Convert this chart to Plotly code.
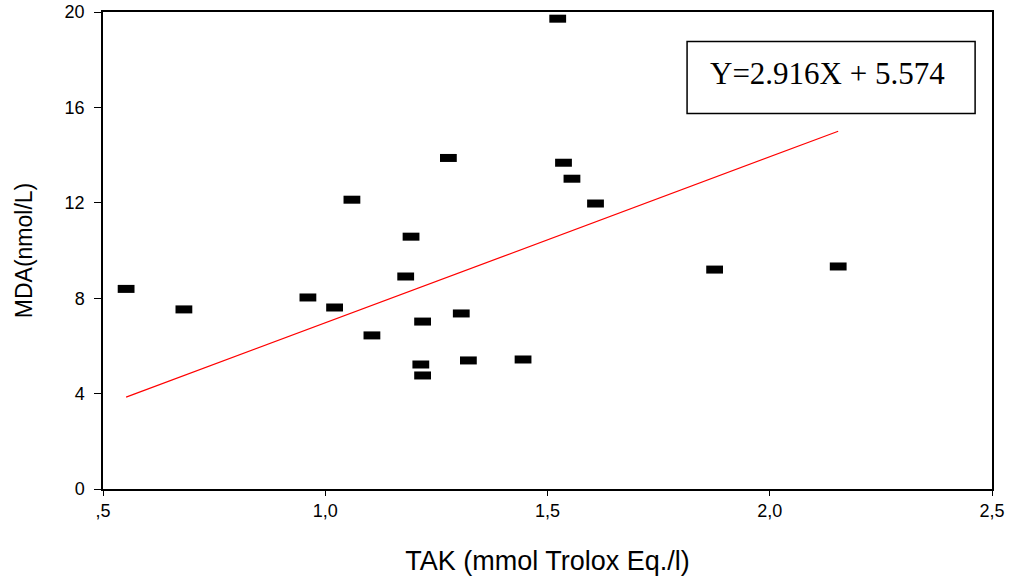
import plotly.graph_objects as go

# Data
tak = [0.552, 0.682, 0.961, 1.021, 1.060, 1.105, 1.181, 1.193, 1.219, 1.215, 1.219,
       1.277, 1.306, 1.322, 1.445, 1.523, 1.536, 1.555, 1.608, 1.876, 2.154]
mda = [8.39, 7.53, 8.03, 7.61, 12.13, 6.44, 8.91, 10.58, 7.02, 5.22, 4.76,
       13.88, 7.36, 5.39, 5.43, 19.72, 13.68, 13.01, 11.97, 9.20, 9.33]

fit_x = [0.552, 2.154]
fit_y = [3.85, 15.0]

x_ticks = [0.5, 1.0, 1.5, 2.0, 2.5]
x_ticklabels = [",5", "1,0", "1,5", "2,0", "2,5"]
y_ticks = [0, 4, 8, 12, 16, 20]
equation = "Y=2.916X + 5.574"

fig = go.Figure()
fig.add_trace(go.Scatter(x=fit_x, y=fit_y, mode="lines",
                         line=dict(color="red", width=1.2), showlegend=False))
fig.add_trace(go.Scatter(x=tak, y=mda, mode="markers",
                         marker=dict(symbol="line-ew", size=12, color="black",
                                     line=dict(color="black", width=8)),
                         showlegend=False))

axis_common = dict(showgrid=False, zeroline=False, showline=True, mirror=True,
                   linecolor="black", linewidth=1.5, ticks="outside",
                   tickcolor="black", tickwidth=1.2, automargin=False,
                   ticklabeloverflow="allow",
                   tickfont=dict(family="Liberation Sans, Arial", size=18, color="black"))

fig.update_xaxes(range=[0.5, 2.5], tickvals=x_ticks, ticktext=x_ticklabels, ticklen=5,
                 title=dict(text="TAK (mmol Trolox Eq./l)",
                            font=dict(family="Liberation Sans, Arial", size=27, color="black"),
                            standoff=31),
                 **axis_common)
fig.update_yaxes(range=[0, 20], tickvals=y_ticks, ticklen=7, ticklabelstandoff=6,
                 title=dict(text="MDA(nmol/L)",
                            font=dict(family="Liberation Sans, Arial", size=23, color="black"),
                            standoff=26),
                 **axis_common)

fig.add_shape(type="rect", xref="paper", yref="paper",
              x0=0.657, x1=0.981, y0=0.787, y1=0.938,
              line=dict(color="black", width=1.5), fillcolor="white", layer="above")
fig.add_annotation(xref="paper", yref="paper", x=0.8155, y=0.871,
                   text=equation, showarrow=False,
                   font=dict(family="Liberation Serif, Times New Roman", size=31, color="black"),
                   xanchor="center", yanchor="middle")

fig.update_layout(width=1021, height=583,
                  margin=dict(l=103, r=29, t=11.5, b=94),
                  plot_bgcolor="white", paper_bgcolor="white")

fig.write_html("out.html", config={"displayModeBar": False},
               post_script="document.body.style.margin='0';")
